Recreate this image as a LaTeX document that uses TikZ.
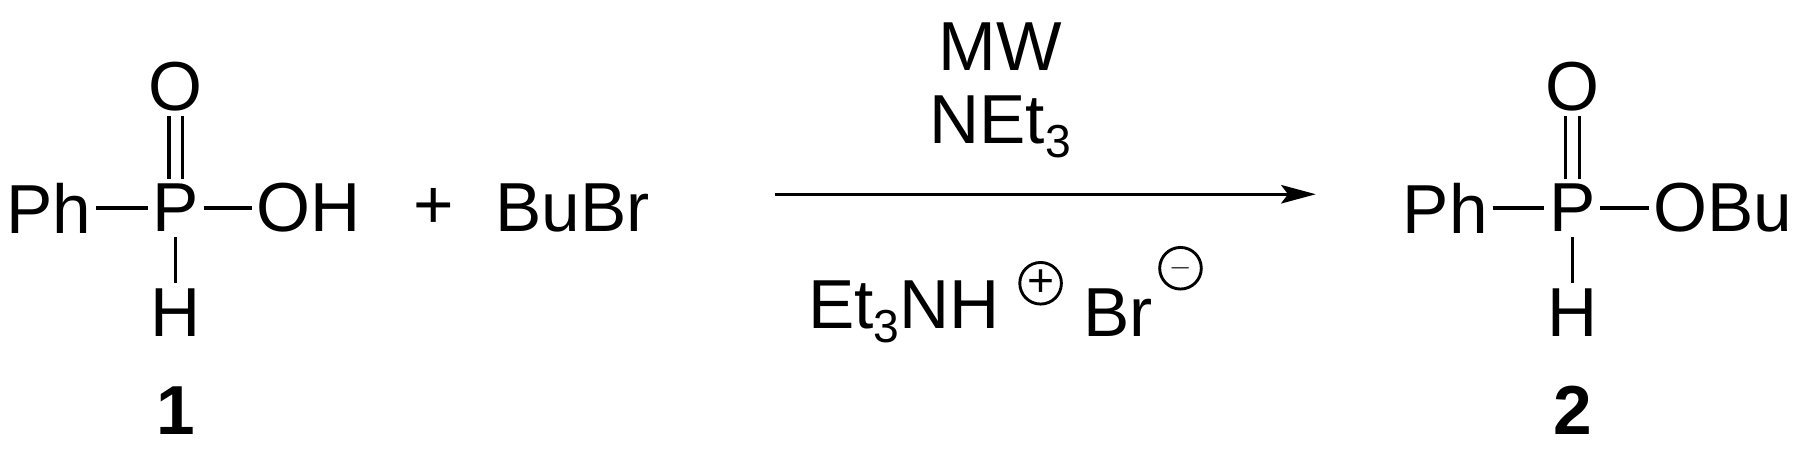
\documentclass[tikz,border=0pt]{standalone}
\usepackage{fontspec}
\setmainfont{Liberation Sans}
\usetikzlibrary{arrows.meta}
\newcommand{\sbt}[1]{\raisebox{-12pt}{\fontsize{40}{40}\selectfont #1}}
\begin{document}
\begin{tikzpicture}[x=1pt,y=-1pt,
  lbl/.style={font=\fontsize{60}{72}\selectfont,inner sep=4pt},
  bnd/.style={line width=3pt},
  chg/.style={draw,circle,line width=2.5pt,minimum size=36pt,inner sep=0,font=\fontsize{40}{40}\selectfont}]
\useasboundingbox (0,0) rectangle (1562,395);
% compound 1
\node[lbl] (ph1) at (42,180) {Ph};
\node[lbl] (p1) at (152,180) {P};
\node[lbl,anchor=west] (oh1) at (218,180) {OH};
\node[lbl] (o1) at (152,75) {O};
\node[lbl] (h1) at (152,270) {H};
\node[lbl,font=\fontsize{60}{72}\selectfont\bfseries] (n1) at (152,355) {1};
\draw[bnd] (ph1.east) -- (p1.west);
\draw[bnd] (p1.east) -- (oh1.west);
\draw[bnd] ([xshift=-6]p1.north) -- ([xshift=-6]o1.south);
\draw[bnd] ([xshift=6]p1.north) -- ([xshift=6]o1.south);
\draw[bnd] (p1.south) -- (h1.north);
\node[lbl] (plus) at (375,180) {+};
\node[lbl] (bubr) at (495,180) {BuBr};
% arrow
\coordinate (a1) at (670,168);
\coordinate (a2) at (1138,168);
\draw[line width=2.5pt,-{Stealth[length=30pt,width=16pt,inset=6pt]}] (a1) -- (a2);
\node[lbl] (mw) at (865,40) {MW};
\node[lbl] (net) at (865,110) {NEt\sbt{3}};
\node[lbl,anchor=west] (et) at (695,270) {Et\sbt{3}NH};
\node[chg] (cp) at (900,245) {+};
\node[lbl] (br) at (967,270) {Br};
\node[chg] (cm) at (1021,232) {$-$};
% compound 2
\node[lbl] (ph2) at (1250,180) {Ph};
\node[lbl] (p2) at (1360,180) {P};
\node[lbl,anchor=west] (ob2) at (1426,180) {OBu};
\node[lbl] (o2) at (1360,75) {O};
\node[lbl] (h2) at (1360,270) {H};
\node[lbl,font=\fontsize{60}{72}\selectfont\bfseries] (n2) at (1360,355) {2};
\draw[bnd] (ph2.east) -- (p2.west);
\draw[bnd] (p2.east) -- (ob2.west);
\draw[bnd] ([xshift=-6]p2.north) -- ([xshift=-6]o2.south);
\draw[bnd] ([xshift=6]p2.north) -- ([xshift=6]o2.south);
\draw[bnd] (p2.south) -- (h2.north);
\end{tikzpicture}
\end{document}
